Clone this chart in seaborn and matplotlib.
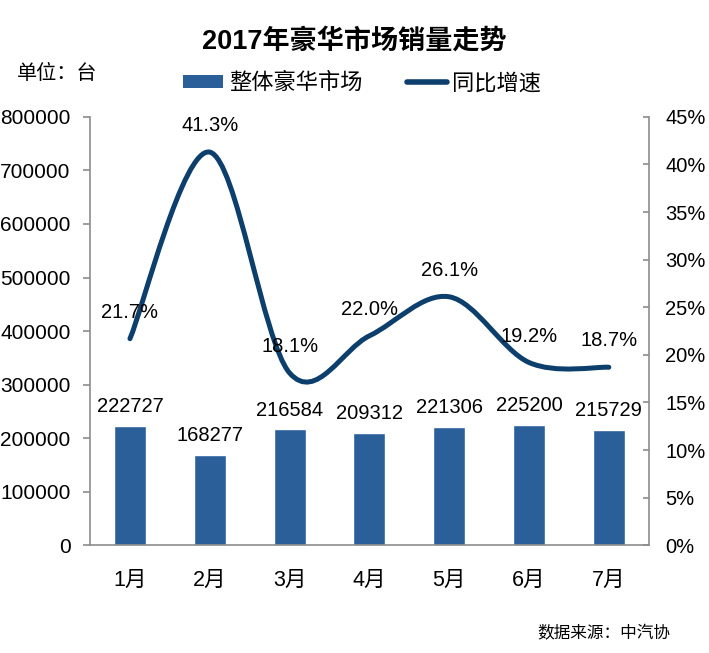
import numpy as np
import matplotlib
matplotlib.use("Agg")
import matplotlib.pyplot as plt
from matplotlib.path import Path
from matplotlib.patches import PathPatch
from matplotlib.lines import Line2D
from matplotlib.patches import Patch
import seaborn as sns

# data
months = ["1月", "2月", "3月", "4月", "5月", "6月", "7月"]
sales = [222727, 168277, 216584, 209312, 221306, 225200, 215729]
growth = [21.7, 41.3, 18.1, 22.0, 26.1, 19.2, 18.7]
left_ticks = [0, 100000, 200000, 300000, 400000, 500000, 600000, 700000, 800000]
right_ticks = [0, 5, 10, 15, 20, 25, 30, 35, 40, 45]

bar_color = "#2A5F9A"
line_color = "#0D3F6D"
axis_gray = "#8C8C8C"

sns.set_style("white")
plt.rcParams["font.family"] = ["Liberation Sans", "Noto Sans CJK SC"]
plt.rcParams["text.color"] = "black"

fig = plt.figure(figsize=(7.09, 6.53), dpi=100)
ax = fig.add_axes([0.127, 0.165, 0.788, 0.656])

sns.barplot(x=months, y=sales, color=bar_color, width=0.4, saturation=1, ax=ax)
ax.bar_label(ax.containers[0], labels=[str(v) for v in sales], padding=7, fontsize=14.5,
             color="black")
ax.set_ylim(0, 800000)
ax.set_xlim(-0.5, 6.5)
ax.set_yticks(left_ticks)
ax.set_yticklabels([str(v) for v in left_ticks], fontsize=15)
ax.tick_params(axis="y", direction="out", length=5, color=axis_gray, width=1.2, pad=9,
               labelcolor="black")
ax.set_xticks(range(len(months)))
ax.set_xticklabels(months, fontsize=15.5)
ax.tick_params(axis="x", which="major", length=0, pad=18, labelcolor="black")
ax.set_xticks(np.arange(-0.5, 7, 1), minor=True)
ax.tick_params(axis="x", which="minor", direction="out", length=6, color=axis_gray, width=1.2)
for side in ["left", "bottom"]:
    ax.spines[side].set_color(axis_gray)
    ax.spines[side].set_linewidth(1.2)
ax.spines["top"].set_visible(False)
ax.spines["right"].set_visible(False)

ax2 = ax.twinx()
ax2.set_ylim(0, 45)
ax2.set_yticks(right_ticks)
ax2.set_yticklabels([f"{v}%" for v in right_ticks], fontsize=14.5)
ax2.tick_params(axis="y", direction="in", length=4, color=axis_gray, width=1.2, pad=12,
                labelcolor="black")
ax2.spines["right"].set_color(axis_gray)
ax2.spines["right"].set_linewidth(1.2)
for side in ["top", "left", "bottom"]:
    ax2.spines[side].set_visible(False)

# smoothed line (Excel-style bezier through the data points)
xs = np.arange(len(growth), dtype=float)
ys = np.array(growth)
px = np.concatenate([[xs[0]], xs, [xs[-1]]])
py = np.concatenate([[ys[0]], ys, [ys[-1]]])
verts = [(xs[0], ys[0])]
codes = [Path.MOVETO]
for i in range(len(xs) - 1):
    c1 = (px[i + 1] + (px[i + 2] - px[i]) / 6, py[i + 1] + (py[i + 2] - py[i]) / 6)
    c2 = (px[i + 2] - (px[i + 3] - px[i + 1]) / 6, py[i + 2] - (py[i + 3] - py[i + 1]) / 6)
    verts += [c1, c2, (xs[i + 1], ys[i + 1])]
    codes += [Path.CURVE4] * 3
ax2.add_patch(PathPatch(Path(verts, codes), facecolor="none", edgecolor=line_color,
                        lw=3.6, capstyle="round", joinstyle="round"))
for x, y in zip(xs, ys):
    ax2.annotate(f"{y:.1f}%", (x, y), xytext=(0, 19), textcoords="offset points",
                 ha="center", va="center", fontsize=14.5, color="black")

fig.text(0.5, 0.936, "2017年豪华市场销量走势", ha="center", va="center",
         fontsize=19.5, fontweight="bold")
fig.text(0.024, 0.888, "单位：台", ha="left", va="center", fontsize=14.5)
fig.text(0.945, 0.03, "数据来源：中汽协", ha="right", va="center", fontsize=12)

handles = [Patch(facecolor=bar_color, edgecolor="none"),
           Line2D([0], [0], color=line_color, lw=4, solid_capstyle="round")]
fig.legend(handles, ["整体豪华市场", "同比增速"], loc="center", bbox_to_anchor=(0.511, 0.872),
           ncol=2, frameon=False, fontsize=16, handlelength=1.8, handleheight=0.5,
           columnspacing=2.0, handletextpad=0.25)

fig.savefig("out.png", dpi=100)
